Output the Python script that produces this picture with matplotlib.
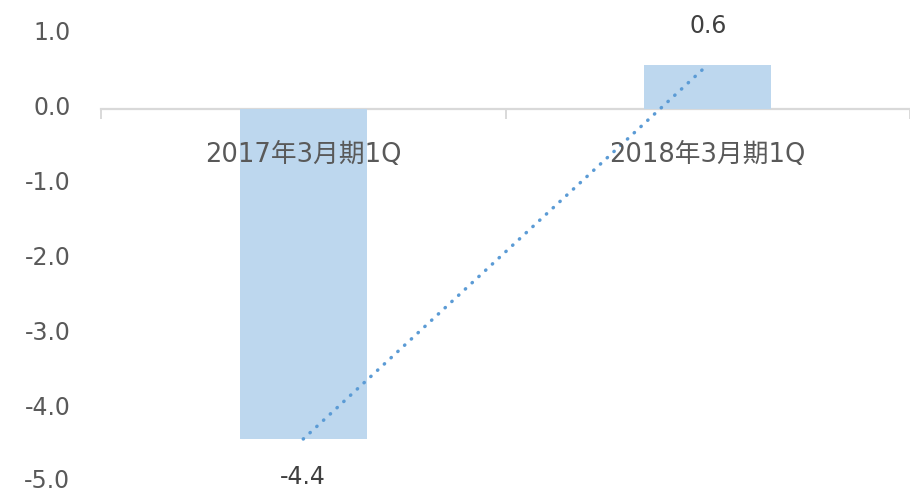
import numpy as np
import matplotlib
matplotlib.use("Agg")
import matplotlib.pyplot as plt
from matplotlib.ticker import FixedLocator, FormatStrFormatter
from matplotlib.transforms import ScaledTranslation

categories = ["2017年3月期1Q", "2018年3月期1Q"]
values = [-4.4, 0.59]
value_labels = ["-4.4", "0.6"]
yticks = [1.0, 0.0, -1.0, -2.0, -3.0, -4.0, -5.0]

W, H = 910, 492
fig = plt.figure(figsize=(W / 100, H / 100), dpi=100)
left_px, top_px, bot_px = 101, 34, 484
ax = fig.add_axes([left_px / W, 1 - bot_px / H, (W - left_px) / W, (bot_px - top_px) / H])

x = np.arange(len(categories))
bar_w = 0.315
ax.bar(x, values, width=bar_w, color="#BDD7EE", zorder=2)

# linear trendline
coef = np.polyfit(x, values, 1)
ax.plot(x, np.polyval(coef, x), linestyle=(0, (0.1, 2.55)), color="#5B9BD5",
        linewidth=2.5, dash_capstyle="round", zorder=3)

for xi, v, lab in zip(x, values, value_labels):
    off = 39 if v >= 0 else -38
    ax.annotate(lab, (xi, v), xytext=(0, off * 0.72), textcoords="offset points",
                ha="center", va="center", fontsize=17, color="#404040",
                family="DejaVu Sans")

ax.set_ylim(-5, 1)
ax.set_xlim(-0.5, -0.5 + (W - left_px) / 413)
ax.yaxis.set_major_locator(FixedLocator(yticks))
ax.yaxis.set_major_formatter(FormatStrFormatter("%.1f"))
ax.tick_params(axis="y", length=0, pad=22, labelsize=17, labelcolor="#595959")
for lbl, t in zip(ax.get_yticklabels(), yticks):
    dy = 3.5 if t > -5 else 6
    lbl.set_transform(lbl.get_transform() + ScaledTranslation(0, dy / 100, fig.dpi_scale_trans))

for s in ["left", "right", "top"]:
    ax.spines[s].set_visible(False)
ax.spines["bottom"].set_position(("data", 0))
ax.spines["bottom"].set_color("#D9D9D9")
ax.spines["bottom"].set_linewidth(1.6)
ax.spines["bottom"].set_zorder(1)

ax.set_xticks(x)
ax.set_xticklabels(categories, family=["DejaVu Sans", "Noto Sans CJK JP"])
ax.set_xticks([-0.5, 0.5, 1.5], minor=True)
ax.tick_params(axis="x", which="major", length=0, pad=24, labelsize=18.5, labelcolor="#595959")
ax.tick_params(axis="x", which="minor", length=7, width=1.4, color="#D9D9D9")
ax.xaxis.set_zorder(5)

fig.savefig("out.png", dpi=100)
